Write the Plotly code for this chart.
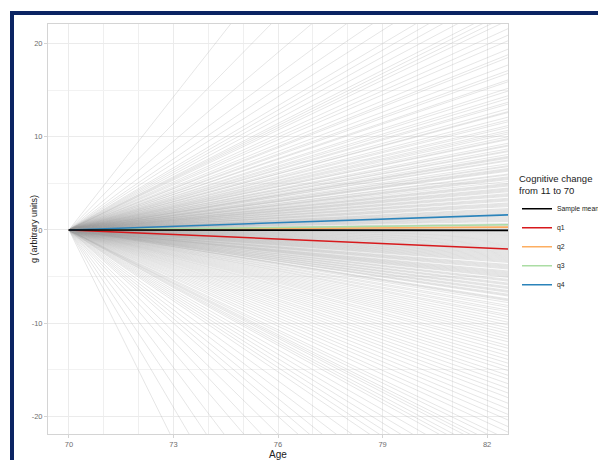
import plotly.graph_objects as go

# ---- data ----
age_start = 70
age_end = 82.6

# individual trajectories: g value at age_end (all start at 0 at age 70)
ind_extreme_neg = [-95, -80, -70, -62, -55, -50, -46, -42, -40, -38, -36, -34, -32, -31,
                   -30, -29, -28, -27, -26, -25.5, -25, -24.4, -24, -23.6, -23, -22.5]
ind_extreme_pos = [60, 48, 40, 35, 32, 30, 28, 27, 26, 25, 24, 23.5, 23, 22.5]
ind_pos = [21.6, 20.9, 20.3, 19.4, 18.8, 18.5, 17.7, 17.1, 16.8, 16.1, 15.9, 15.2, 14.9,
           14.4, 14.1, 13.7, 13.5, 13.0, 12.7, 12.6, 12.1, 11.8, 11.6, 11.2, 11.0, 10.7,
           10.5, 10.3, 10.0, 9.8, 9.7, 9.3, 9.1, 9.0, 8.7, 8.5, 8.4, 8.1, 7.9, 7.8, 7.5,
           7.4, 7.1, 6.9, 6.8, 6.6, 6.4, 6.3, 6.0, 5.9, 5.7, 5.5, 5.4, 5.2, 5.0, 4.9, 4.7,
           4.5, 4.4, 4.2, 4.1, 3.9, 3.7, 3.6, 3.4, 3.3, 3.1, 2.9, 2.8, 2.6, 2.5, 2.3, 2.1,
           2.0, 1.8, 1.7, 1.5, 1.3, 1.2, 1.0, 0.9, 0.7, 0.5, 0.4, 0.2, 0.1]
ind_neg = [-0.1, -0.3, -0.4, -0.6, -0.8, -0.9, -1.1, -1.3, -1.4, -1.6, -1.8, -1.9, -2.1,
           -2.3, -2.5, -2.6, -2.8, -3.0, -3.2, -3.3, -3.5, -3.7, -3.9, -4.0, -4.2, -4.4,
           -4.6, -4.8, -4.9, -5.1, -5.3, -5.5, -5.7, -5.9, -6.1, -6.3, -6.5, -6.7, -6.9,
           -7.1, -7.4, -7.6, -7.8, -8.1, -8.3, -8.6, -8.8, -9.1, -9.3, -9.6, -9.9, -10.2,
           -10.5, -10.8, -11.1, -11.4, -11.7, -12.0, -12.4, -12.7, -13.1, -13.5, -13.9,
           -14.3, -14.7, -15.1, -15.6, -16.0, -16.5, -17.0, -17.5, -18.0, -18.6, -19.2,
           -19.8, -20.4, -21.1, -21.7]
ind_center = [7.7, 6.5, 5.6, 4.8, 4.3, 3.8, 3.2, 2.7, 2.2, 1.9, 1.4, 1.1, 0.6, 0.3, 0.0,
              -0.2, -0.5, -0.7, -1.0, -1.2, -1.5, -1.7, -2.0, -2.2, -2.4, -2.7, -2.9,
              -3.1, -3.4, -3.8, -4.1, -4.5, -4.7, -5.0, -5.4, -5.8, -6.2, -6.6, -7.0, -7.5]

group_names = ["Sample mean", "q1", "q2", "q3", "q4"]
group_end = [-0.05, -2.05, 0.3, 0.55, 1.62]
group_colors = ["#000000", "#d7191c", "#fdae61", "#abdda4", "#2b83ba"]

x_ticks = [70, 73, 76, 79, 82]
y_ticks = [-20, -10, 0, 10, 20]
y_tick_text = ["-20", "-10", "0", "10", "20"]

# ---- figure ----
fig = go.Figure()
all_ind = ind_extreme_neg + ind_extreme_pos + ind_pos + ind_neg + ind_center
for v in all_ind:
    fig.add_trace(go.Scatter(
        x=[age_start, age_end], y=[0, v], mode="lines",
        line=dict(color="rgba(160,160,160,0.38)", width=0.7),
        showlegend=False, hoverinfo="skip"))

draw_order = [2, 3, 1, 4, 0]
for i in draw_order:
    fig.add_trace(go.Scatter(
        x=[age_start, age_end], y=[0, group_end[i]], mode="lines",
        name=group_names[i], line=dict(color=group_colors[i], width=1.6),
        legendrank=i + 1))

L, R, T, B = 48, 90, 24, 26
W, H = 598, 460
pw, ph = W - L - R, H - T - B

def px_x(p):
    return (p - L) / pw

def px_y(p):
    return (H - B - p) / ph

fig.add_shape(type="rect", xref="paper", yref="paper",
              x0=px_x(12), x1=px_x(W + 10), y0=px_y(H + 10), y1=px_y(13),
              line=dict(color="#0b2463", width=4), fillcolor="rgba(0,0,0,0)",
              layer="above")

fig.add_annotation(text="g (arbitrary units)", xref="paper", yref="paper",
                   x=px_x(34), y=0.5, xanchor="center", yanchor="middle",
                   textangle=-90, showarrow=False,
                   font=dict(size=9, color="#222222"))

axis_common = dict(
    showline=True, mirror=True, linecolor="#d4d4d4", linewidth=1,
    gridcolor="#ebebeb", gridwidth=1, zeroline=False,
    ticks="outside", ticklen=3, tickcolor="#d4d4d4",
    tickfont=dict(size=7.5, color="#6e6e6e"),
)

fig.update_layout(
    width=W, height=H,
    margin=dict(l=L, r=R, t=T, b=B, autoexpand=False),
    paper_bgcolor="white", plot_bgcolor="white",
    font=dict(family="Liberation Sans, Arial, sans-serif", color="#222222"),
    xaxis=dict(range=[69.4, 82.6], tickvals=x_ticks,
               minor=dict(dtick=1, tick0=70, showgrid=True, gridcolor="#efefef"),
               title=dict(text="Age", font=dict(size=10), standoff=1),
               **axis_common),
    yaxis=dict(range=[-21.9, 22.1], tickvals=y_ticks, ticktext=y_tick_text,
               minor=dict(dtick=5, tick0=0, showgrid=True, gridcolor="#f2f2f2"),
               **axis_common),
    legend=dict(title=dict(text="Cognitive change<br>from 11 to 70",
                           font=dict(size=9.5, color="#222222")),
                font=dict(size=6.8, color="#222222"),
                x=px_x(517), xanchor="left", y=0.645, yanchor="top",
                bgcolor="rgba(0,0,0,0)", itemwidth=30, tracegroupgap=0),
    showlegend=True,
)

fig.write_html("out.html", config={"displayModeBar": False},
               post_script="document.body.style.margin='0';")
